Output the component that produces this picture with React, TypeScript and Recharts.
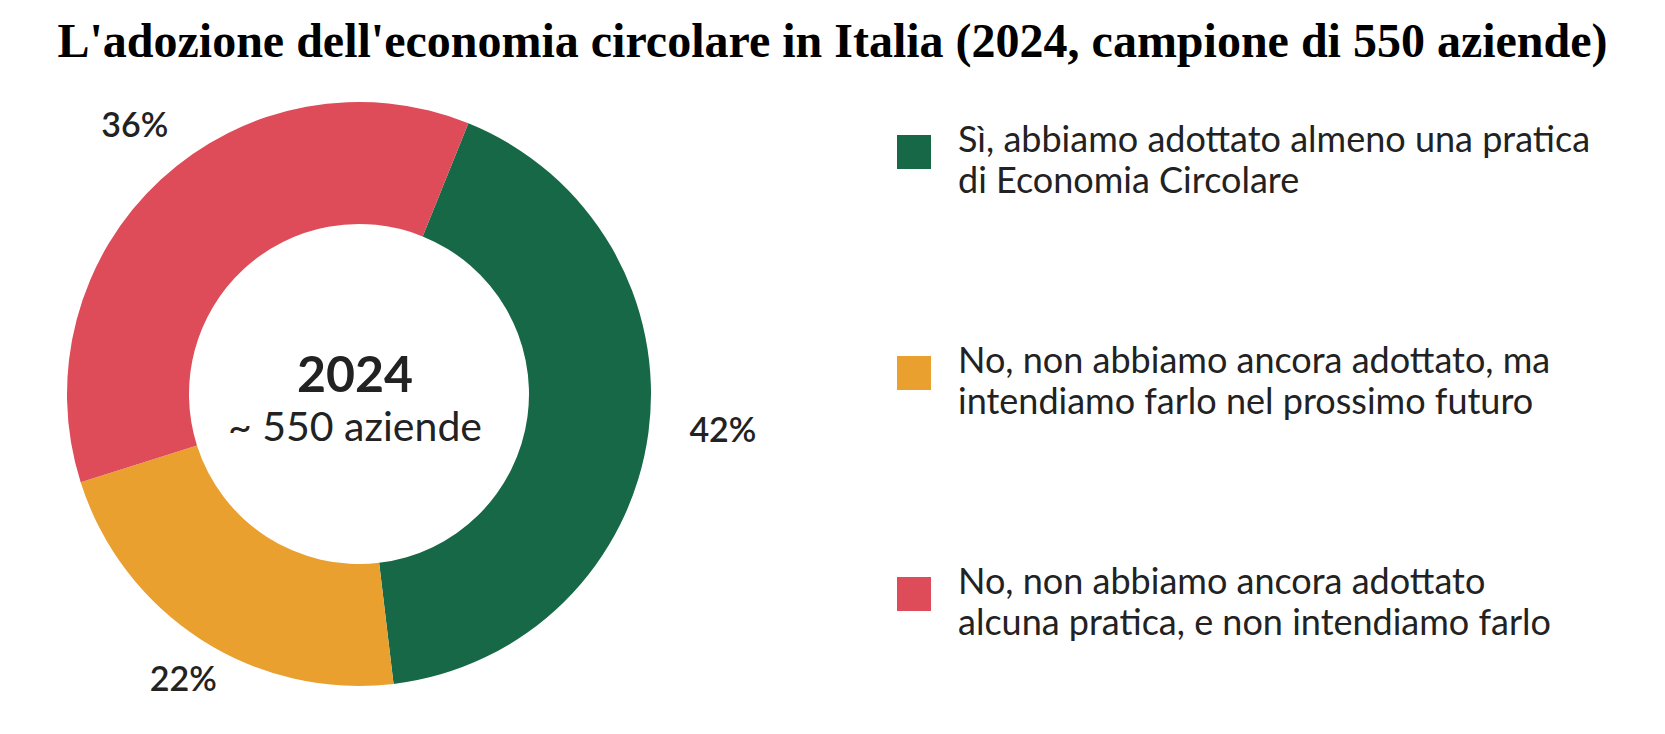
import { PieChart, Pie, Cell, Legend, Label } from "recharts";

const title =
  "L'adozione dell'economia circolare in Italia (2024, campione di 550 aziende)";

const categories = [
  "Sì, abbiamo adottato almeno una pratica\ndi Economia Circolare",
  "No, non abbiamo ancora adottato, ma\nintendiamo farlo nel prossimo futuro",
  "No, non abbiamo ancora adottato\nalcuna pratica, e non intendiamo farlo",
];
const shares = [42, 22, 36];
const colors = ["#176846", "#EAA02F", "#DD4C58"];

const centerYear = "2024";
const centerSample = "~ 550 aziende";

const data = categories.map((name, i) => ({ name, value: shares[i] }));

const RADIAN = Math.PI / 180;
const CX = 359;
const CY = 394;
const FONT = "Lato, 'Noto Sans', sans-serif";
const INK = "#222222";

// outer labels sit a bit up and right of the ring's own centre
const renderPercent = (props: any) => {
  const { cx, cy, midAngle, outerRadius, value } = props;
  const r = outerRadius + 60;
  const x = cx + 15 + r * Math.cos(-midAngle * RADIAN);
  const y = cy - 12 + r * Math.sin(-midAngle * RADIAN);
  return (
    <text
      x={x}
      y={y}
      textAnchor="middle"
      dominantBaseline="central"
      fill={INK}
      fontFamily={FONT}
      fontWeight={600}
      fontSize={34}
    >
      {value}%
    </text>
  );
};

const renderCenter = (props: any) => {
  const vb = props.viewBox || {};
  const cx = vb.cx ?? CX;
  const cy = vb.cy ?? CY;
  return (
    <g>
      <text
        x={cx - 4}
        y={cy - 2}
        textAnchor="middle"
        fill={INK}
        fontFamily={FONT}
        fontWeight={700}
        fontSize={50}
      >
        {centerYear}
      </text>
      <text
        x={cx - 4}
        y={cy + 47}
        textAnchor="middle"
        fill={INK}
        fontFamily={FONT}
        fontSize={41}
      >
        {centerSample}
      </text>
    </g>
  );
};

const renderLegend = () => (
  <div style={{ display: "flex", flexDirection: "column", gap: 139 }}>
    {data.map((d, i) => (
      <div key={d.name} style={{ display: "flex", alignItems: "flex-start" }}>
        <div
          style={{
            width: 34,
            height: 34,
            marginTop: 17,
            background: colors[i],
            flex: "none",
          }}
        />
        <div
          style={{
            marginLeft: 27,
            fontFamily: FONT,
            fontSize: 36,
            lineHeight: "41px",
            color: INK,
            whiteSpace: "pre-line",
          }}
        >
          {d.name}
        </div>
      </div>
    ))}
  </div>
);

export default function App() {
  return (
    <div
      style={{
        position: "absolute",
        left: 0,
        top: 0,
        width: 1665,
        height: 734,
        background: "#fff",
      }}
    >
      <div
        style={{
          position: "absolute",
          left: 0,
          top: 17,
          width: 1665,
          textAlign: "center",
          fontFamily: "'Liberation Serif', 'Times New Roman', serif",
          fontWeight: 700,
          fontSize: 48,
          lineHeight: "48px",
          color: "#000",
          zIndex: 2,
        }}
      >
        {title}
      </div>
      <PieChart
        width={1665}
        height={734}
        margin={{ top: 0, right: 0, bottom: 0, left: 0 }}
      >
        <Pie
          data={data}
          dataKey="value"
          nameKey="name"
          cx={CX}
          cy={CY}
          innerRadius={170}
          outerRadius={292}
          startAngle={68}
          endAngle={-292}
          stroke="none"
          label={renderPercent}
          labelLine={false}
          isAnimationActive={false}
        >
          {data.map((d, i) => (
            <Cell key={d.name} fill={colors[i]} />
          ))}
          <Label position="center" content={renderCenter} />
        </Pie>
        <Legend
          layout="vertical"
          align="right"
          verticalAlign="top"
          content={renderLegend}
          wrapperStyle={{ left: 897, top: 118, right: "auto", width: 740 }}
        />
      </PieChart>
    </div>
  );
}
